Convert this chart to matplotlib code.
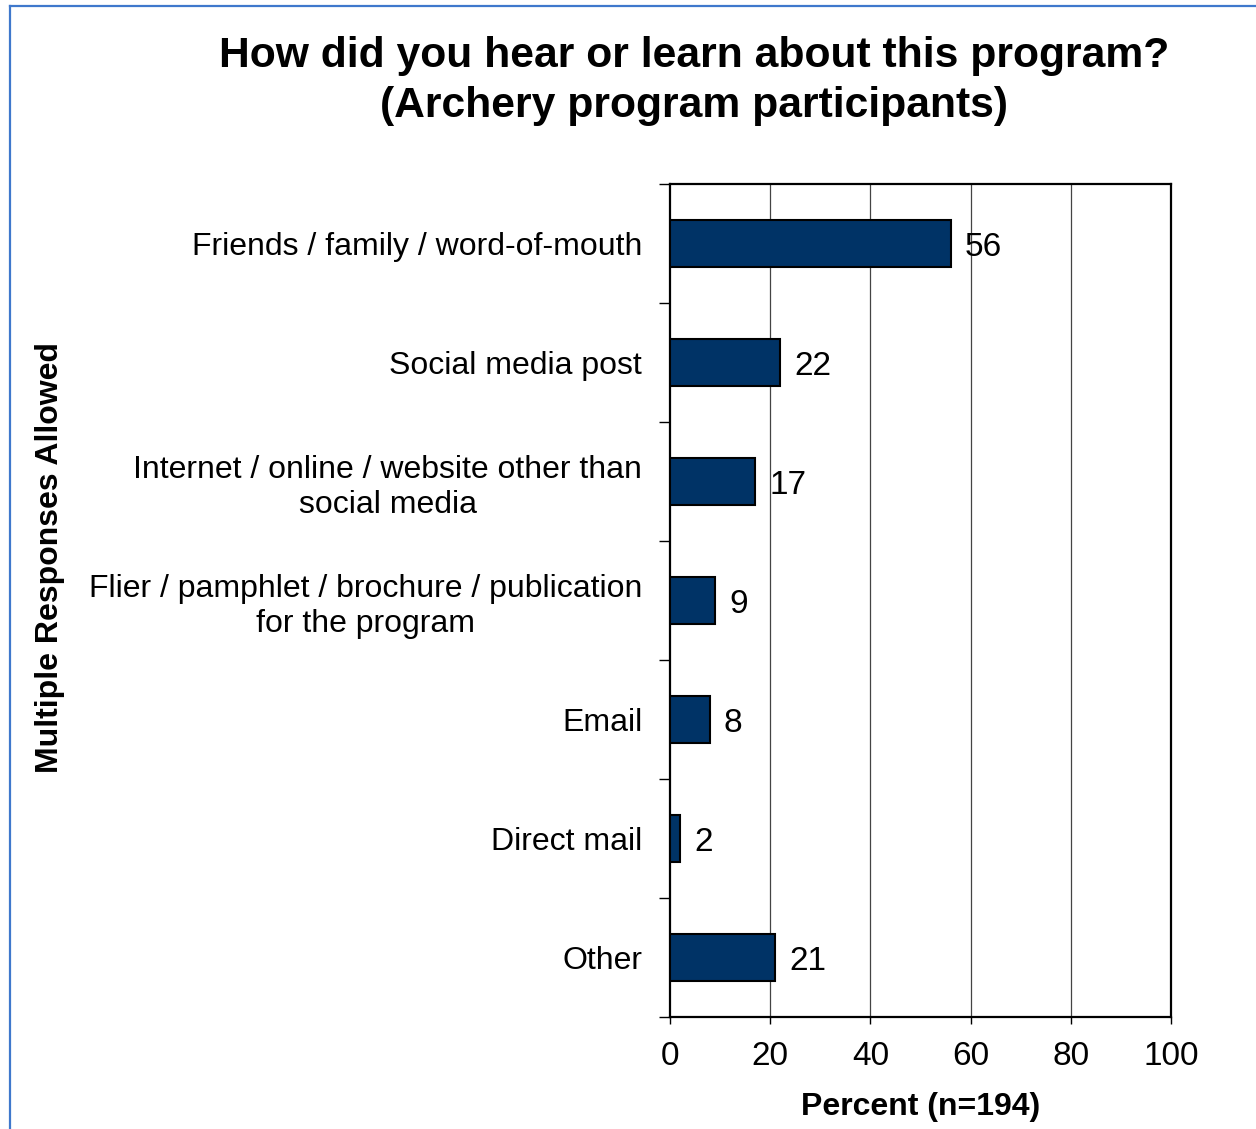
import matplotlib
matplotlib.use("Agg")
import matplotlib.pyplot as plt
from matplotlib.lines import Line2D
import numpy as np

plt.rcParams['font.family'] = ['Liberation Sans', 'DejaVu Sans']

# survey answers, top to bottom
categories = [
    "Friends / family / word-of-mouth",
    "Social media post",
    "Internet / online / website other than\nsocial media",
    "Flier / pamphlet / brochure / publication\nfor the program",
    "Email",
    "Direct mail",
    "Other",
]
percents = [56, 22, 17, 9, 8, 2, 21]
xticks = [0, 20, 40, 60, 80, 100]

bar_color = "#003366"

fig = plt.figure(figsize=(12.56, 11.29), dpi=100)
ax = fig.add_axes([670 / 1256, 1 - 1017 / 1129, 501 / 1256, 833 / 1129])

y = np.arange(len(categories))
ax.barh(y, percents, height=0.4, color=bar_color, edgecolor="black",
        linewidth=1.5, zorder=3)

for yi, v in zip(y, percents):
    ax.annotate(str(v), (v, yi), xytext=(10, 0), textcoords="offset points",
                va="center_baseline", ha="left", fontsize=24)

ax.set_xlim(0, 100)
ax.set_ylim(len(categories) - 0.5, -0.5)

# vertical grid lines
for g in xticks[1:-1]:
    ax.axvline(g, color="#444444", lw=0.9, zorder=1)

ax.set_xticks(xticks)
ax.set_xticklabels([str(t) for t in xticks], fontsize=24)
ax.tick_params(axis="x", direction="out", length=5, width=1, pad=12)

# boundary ticks between categories, labels centred on bars
ax.set_yticks(np.arange(-0.5, len(categories), 1.0))
ax.set_yticklabels([])
ax.tick_params(axis="y", which="major", direction="out", length=8, width=1)
ax.set_yticks(y, minor=True)
ax.set_yticklabels(categories, minor=True, fontsize=23, multialignment="center")
ax.tick_params(axis="y", which="minor", length=0, pad=20)

for s in ax.spines.values():
    s.set_linewidth(1.6)
    s.set_color("black")

ax.set_xlabel("Percent (n=194)", fontsize=23, fontweight="bold", labelpad=15)

fig.text(50 / 1256, 1 - 558 / 1129, "Multiple Responses Allowed", rotation=90,
         fontsize=23, fontweight="bold", ha="center", va="center")

fig.text(694 / 1256, 1 - 81 / 1129,
         "How did you hear or learn about this program?\n(Archery program participants)",
         fontsize=30.7, fontweight="bold", ha="center", va="center",
         multialignment="center", linespacing=1.3)

# frame line along the top and left edge
fig.add_artist(Line2D([10 / 1256, 10 / 1256], [0, 1 - 6 / 1129],
                      transform=fig.transFigure, color="#3f78cc", lw=1.6))
fig.add_artist(Line2D([10 / 1256, 1], [1 - 6 / 1129, 1 - 6 / 1129],
                      transform=fig.transFigure, color="#3f78cc", lw=1.6))

fig.savefig("out.png", dpi=100, facecolor="white")
